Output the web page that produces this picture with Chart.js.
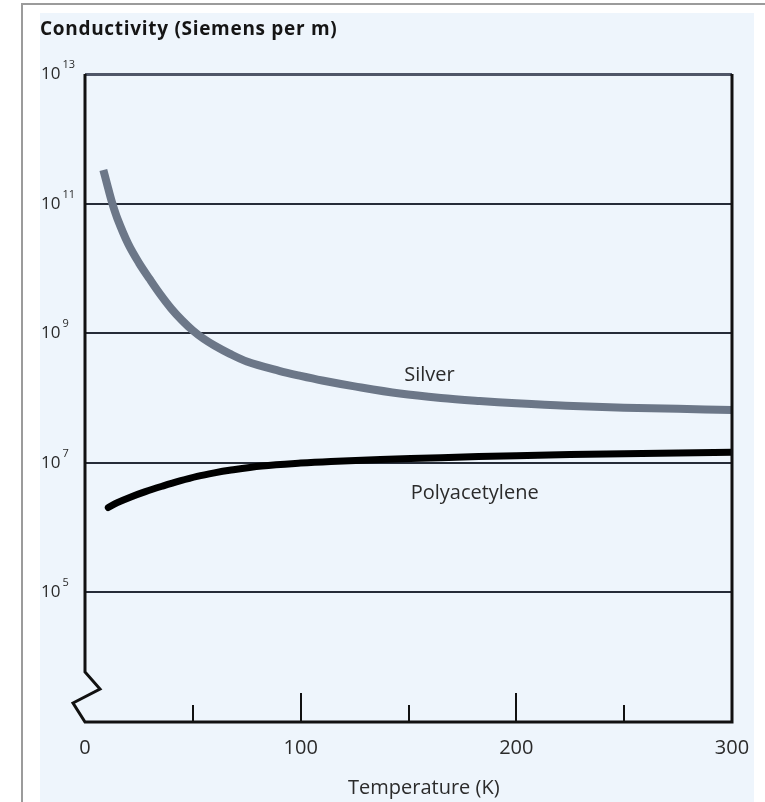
<!DOCTYPE html>
<html>
<head>
<meta charset="utf-8">
<title>Conductivity vs temperature</title>
<script src="https://cdn.jsdelivr.net/npm/chart.js@4.4.1/dist/chart.umd.min.js"></script>
<style>
  html, body { margin: 0; padding: 0; background: #fff; }
  #wrap { position: relative; width: 765px; height: 802px; }
</style>
</head>
<body>
<div id="wrap"><canvas id="condChart"></canvas></div>
<script>
// Temperature (K) and conductivity (S/m)
var tempSilver = [8.5, 10, 12.5, 15, 20, 25, 30, 35, 40, 45, 50, 55, 60, 67, 75, 90, 100, 110, 125, 146, 165, 183, 200, 223, 250, 275, 300];
var condSilver = [3.31e11, 2.14e11, 1.05e11, 5.9e10, 2.4e10, 1.22e10, 6.84e9, 3.94e9, 2.4e9, 1.58e9, 1.1e9, 8.2e8, 6.46e8, 4.84e8, 3.67e8, 2.63e8, 2.19e8, 1.86e8, 1.51e8, 1.17e8, 1.0e8, 9.0e7, 8.3e7, 7.6e7, 7.1e7, 6.8e7, 6.5e7];

var tempPoly = [10.8, 15, 21, 28, 36, 44, 52, 60, 67, 82, 100, 114, 137, 165, 200, 250, 300];
var condPoly = [2.04e6, 2.43e6, 2.95e6, 3.59e6, 4.37e6, 5.25e6, 6.17e6, 7.0e6, 7.67e6, 8.91e6, 9.89e6, 1.047e7, 1.12e7, 1.2e7, 1.29e7, 1.38e7, 1.46e7];

var yTickValues = [1e5, 1e7, 1e9, 1e11, 1e13];
var yTickExps = ['5', '7', '9', '11', '13'];
var xTickLabels = [0, 100, 200, 300];
var xMinorTicks = [50, 150, 250];

var seriesNames = ['Silver', 'Polyacetylene'];
var nameAnchorT = [148, 151];
var nameAnchorC = [1.8e8, 2.8e6];

var FONT = '"Open Sans", "Noto Sans", sans-serif';

function toPoints(xs, ys) {
  return xs.map(function (x, i) { return { x: x, y: ys[i] }; });
}

// page frame + tinted panel behind the chart
var framePlugin = {
  id: 'frame',
  beforeDraw: function (chart) {
    var ctx = chart.ctx;
    ctx.save();
    ctx.fillStyle = '#ffffff';
    ctx.fillRect(0, 0, chart.width, chart.height);
    ctx.fillStyle = '#eef5fc';
    ctx.fillRect(40, 13, 714, 789);
    ctx.strokeStyle = '#9b9b9b';
    ctx.lineWidth = 2;
    ctx.beginPath();
    ctx.moveTo(22, chart.height);
    ctx.lineTo(22, 4);
    ctx.lineTo(chart.width, 4);
    ctx.stroke();
    ctx.restore();
  }
};

// box axes with a broken left edge, inward ticks, and all text
var axesPlugin = {
  id: 'axesText',
  afterDatasetsDraw: function (chart) {
    var ctx = chart.ctx;
    var xs = chart.scales.x, ys = chart.scales.y;
    var L = xs.getPixelForValue(0), R = xs.getPixelForValue(300);
    var T = ys.getPixelForValue(1e13), B = ys.getPixelForValue(1e3);

    ctx.save();
    ctx.strokeStyle = '#111';
    ctx.lineWidth = 3;
    ctx.lineJoin = 'miter';
    ctx.beginPath();
    ctx.moveTo(L, T);
    ctx.lineTo(L, B - 50);
    ctx.lineTo(L + 15, B - 33);
    ctx.lineTo(L - 12, B - 19);
    ctx.lineTo(L, B);
    ctx.lineTo(R, B);
    ctx.lineTo(R, T);
    ctx.stroke();

    // major ticks at the labels, short ones between
    ctx.lineWidth = 2;
    xTickLabels.concat(xMinorTicks).forEach(function (v) {
      if (v === 0 || v === 300) return;
      var px = Math.round(xs.getPixelForValue(v));
      var len = xMinorTicks.indexOf(v) >= 0 ? 17 : 29;
      ctx.beginPath();
      ctx.moveTo(px, B);
      ctx.lineTo(px, B - len);
      ctx.stroke();
    });

    // x labels
    ctx.fillStyle = '#2b2b2b';
    ctx.font = '20px ' + FONT;
    ctx.textAlign = 'center';
    ctx.textBaseline = 'alphabetic';
    xTickLabels.forEach(function (v) {
      ctx.fillText(String(v), xs.getPixelForValue(v), 754);
    });
    ctx.textAlign = 'left';
    ctx.fillText('Temperature (K)', 348, 794);

    // y labels as 10 with superscript exponent
    yTickValues.forEach(function (v, i) {
      var py = ys.getPixelForValue(v);
      ctx.font = '17px ' + FONT;
      ctx.fillText('10', 41, py + 5);
      var w = ctx.measureText('10').width;
      ctx.font = '11px ' + FONT;
      ctx.fillText(yTickExps[i], 41 + w + 2, py - 6);
    });

    // series names
    ctx.font = '20px ' + FONT;
    seriesNames.forEach(function (name, i) {
      ctx.fillText(name, xs.getPixelForValue(nameAnchorT[i]), ys.getPixelForValue(nameAnchorC[i]));
    });

    // title
    ctx.fillStyle = '#151515';
    ctx.font = 'bold 19px ' + FONT;
    ctx.letterSpacing = '0.7px';
    ctx.fillText('Conductivity (Siemens per m)', 40, 35);
    ctx.restore();
  }
};

var chart = new Chart(document.getElementById('condChart').getContext('2d'), {
  type: 'line',
  data: {
    datasets: [
      {
        label: 'Silver',
        data: toPoints(tempSilver, condSilver),
        borderColor: '#6c7788',
        borderWidth: 8,
        borderCapStyle: 'butt',
        borderJoinStyle: 'round',
        pointRadius: 0,
        tension: 0.35,
        fill: false
      },
      {
        label: 'Polyacetylene',
        data: toPoints(tempPoly, condPoly),
        borderColor: '#000000',
        borderWidth: 7,
        borderCapStyle: 'round',
        borderJoinStyle: 'round',
        pointRadius: 0,
        tension: 0.35,
        fill: false
      }
    ]
  },
  options: {
    responsive: true,
    maintainAspectRatio: false,
    animation: false,
    events: [],
    layout: { padding: { left: 85, top: 74, right: 33, bottom: 80 } },
    plugins: {
      legend: { display: false },
      tooltip: { enabled: false },
      title: { display: false }
    },
    scales: {
      x: { type: 'linear', min: 0, max: 300, display: false },
      y: {
        type: 'logarithmic',
        min: 1e3,
        max: 1e13,
        afterBuildTicks: function (scale) {
          scale.ticks = yTickValues.map(function (v) { return { value: v }; });
        },
        afterFit: function (scale) { scale.width = 0; },
        ticks: { display: false },
        border: { display: false },
        grid: {
          drawTicks: false,
          color: function (c) { return c.tick && c.tick.value === 1e13 ? '#4f5668' : '#262c38'; },
          lineWidth: function (c) { return c.tick && c.tick.value === 1e13 ? 3 : 2; }
        }
      }
    }
  },
  plugins: [framePlugin, axesPlugin]
});
</script>
</body>
</html>
